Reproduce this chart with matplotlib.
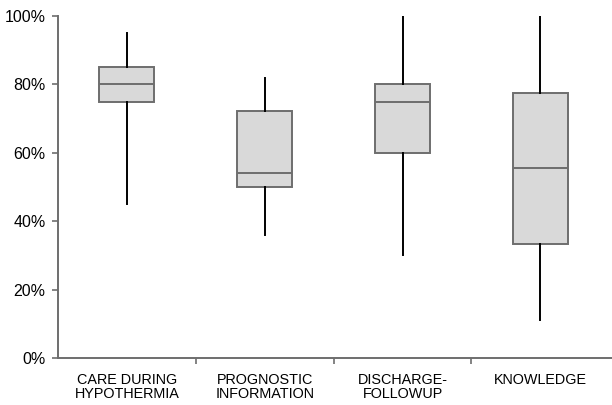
import matplotlib.pyplot as plt
from matplotlib.ticker import FixedLocator

categories = ["CARE DURING\nHYPOTHERMIA", "PROGNOSTIC\nINFORMATION", "DISCHARGE-\nFOLLOWUP", "KNOWLEDGE"]
whisker_low = [45, 36, 30, 11]
q1 = [75, 50, 60, 33.3]
median = [80, 54.2, 75, 55.6]
q3 = [85, 72.3, 80, 77.5]
whisker_high = [95, 82, 100, 100]
y_ticks = [0, 20, 40, 60, 80, 100]

plt.rcParams["font.family"] = ["Liberation Sans", "DejaVu Sans"]

fig = plt.figure(figsize=(6.12, 4.05), dpi=100)
ax = fig.add_axes([0.0948, 0.116, 0.9052, 0.8444])

stats = []
for i, name in enumerate(categories):
    stats.append({
        "label": name,
        "whislo": whisker_low[i],
        "q1": q1[i],
        "med": median[i],
        "q3": q3[i],
        "whishi": whisker_high[i],
        "fliers": [],
    })

edge = "#6e6e6e"
ax.bxp(stats, positions=range(1, len(categories) + 1), widths=0.4,
       patch_artist=True, showcaps=False, showfliers=False,
       boxprops=dict(facecolor="#d9d9d9", edgecolor=edge, linewidth=1.4),
       medianprops=dict(color=edge, linewidth=1.4),
       whiskerprops=dict(color="black", linewidth=1.4))

ax.set_xlim(0.5, 4.52)
ax.set_ylim(0, 100)

ax.set_yticks(y_ticks)
ax.set_yticklabels([f"{t}%" for t in y_ticks], fontsize=11.5)
ax.set_xticks(range(1, len(categories) + 1))
ax.set_xticklabels(categories, fontsize=10.4, va="top", linespacing=0.95)
ax.xaxis.set_minor_locator(FixedLocator([1.5, 2.5, 3.5]))

ax.tick_params(axis="x", which="major", length=0, pad=11)
ax.tick_params(axis="x", which="minor", length=4, width=1.2, color=edge, direction="out")
ax.tick_params(axis="y", length=4, width=1.2, color=edge, direction="out", pad=5)

for side in ["top", "right"]:
    ax.spines[side].set_visible(False)
for side in ["left", "bottom"]:
    ax.spines[side].set_color(edge)
    ax.spines[side].set_linewidth(1.4)

fig.savefig("out.png", dpi=100)
